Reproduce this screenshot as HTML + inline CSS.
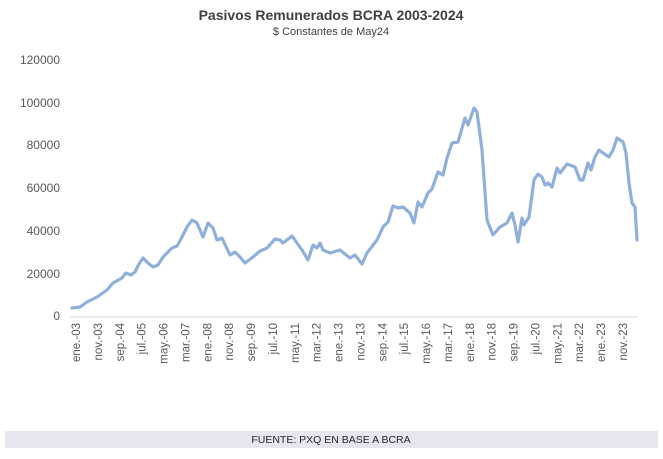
<!DOCTYPE html>
<html><head><style>
body{margin:0;background:#fff;width:663px;height:454px;overflow:hidden;font-family:"Liberation Sans",sans-serif}
</style></head><body>
<svg width="663" height="454" xmlns="http://www.w3.org/2000/svg" font-family="Liberation Sans, sans-serif">
<rect width="663" height="454" fill="#fff"/>
<text x="331" y="20" text-anchor="middle" font-size="14" font-weight="bold" fill="#404040">Pasivos Remunerados BCRA 2003-2024</text>
<text x="331" y="35" text-anchor="middle" font-size="11" fill="#404040">$ Constantes de May24</text>
<g font-size="12" fill="#595959" text-anchor="end">
<text x="60" y="320">0</text>
<text x="60" y="278">20000</text>
<text x="60" y="235">40000</text>
<text x="60" y="192">60000</text>
<text x="60" y="149">80000</text>
<text x="60" y="107">100000</text>
<text x="60" y="64">120000</text>
</g>
<line x1="70" y1="317" x2="638" y2="317" stroke="#d9d9d9" stroke-width="1"/>
<polyline fill="none" stroke="#8fb0da" stroke-width="3.2" stroke-linejoin="round" stroke-linecap="round" points="72,308 80,307 87,302 97,297 107,290 113,283 122,278 126,273 131,275 135,272 139,264 143,258 148,263 153,267 158,265 163,257 172,248 177,246 182,237 187,227 192,220 197,223 203,237 208,223 213,228 217,240 222,238 230,255 235,252 240,257 245,263 253,257 260,251 267,248 275,239 280,240 283,243 292,236 297,243 302,250 308,260 313,245 317,248 320,243 323,250 330,253 340,250 350,258 355,255 362,264 367,253 377,240 383,227 388,222 393,206 398,208 403,207 410,213 414,223 418,202 422,207 428,193 432,189 438,172 443,175 447,158 452,143 458,142 465,118 468,125 474,108 477,112 482,150 487,220 493,235 500,227 507,223 512,213 515,225 518,242 522,218 524,225 529,217 534,180 538,174 542,177 545,185 548,183 552,187 557,168 560,173 567,164 575,167 580,180 583,180 588,163 591,170 595,157 599,150 603,153 609,157 613,150 617,138 623,142 626,153 629,183 632,203 635,207 637,240"/>
<g font-size="11.5" fill="#595959" id="xl"></g>
<rect x="5" y="431" width="653" height="17" fill="#e6e6ee"/>
<text x="331" y="443" text-anchor="middle" font-size="10.5" fill="#262626">FUENTE: PXQ EN BASE A BCRA</text>
</svg>
<script>
var l=["ene.-03","nov.-03","sep.-04","jul.-05","may.-06","mar.-07","ene.-08","nov.-08","sep.-09","jul.-10","may.-11","mar.-12","ene.-13","nov.-13","sep.-14","jul.-15","may.-16","mar.-17","ene.-18","nov.-18","sep.-19","jul.-20","may.-21","mar.-22","ene.-23","nov.-23"];
var g=document.getElementById("xl"),s="";
for(var i=0;i<l.length;i++){var x=76+i*21.88;s+='<text transform="translate('+(x+4)+',323) rotate(-90)" text-anchor="end">'+l[i]+'</text>';}
g.innerHTML=s;
</script>
</body></html>
